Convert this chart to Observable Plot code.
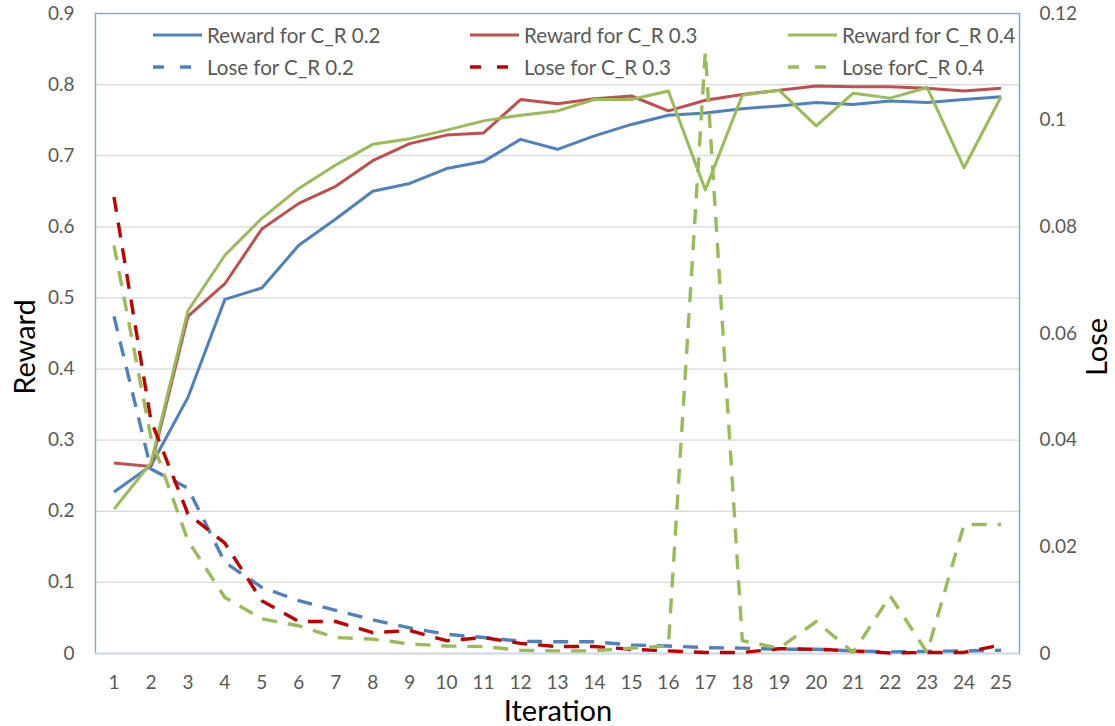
<!DOCTYPE html>
<html>
<head>
<meta charset="utf-8">
<script src="https://cdn.jsdelivr.net/npm/d3@7"></script>
<script src="https://cdn.jsdelivr.net/npm/@observablehq/plot@0.6"></script>
<style>
  body { margin: 0; background: #fff; }
  #wrap { position: relative; width: 1115px; height: 726px; font-family: Lato, "Open Sans", sans-serif; overflow: hidden; }
  .legend-item { position: absolute; display: flex; align-items: center; font-size: 20.5px; color: #595959; white-space: nowrap; transform: translateY(-50%); }
  .legend-item svg { margin-right: 5px; }
  .title { position: absolute; color: #000; white-space: nowrap; transform: translate(-50%, -50%); }
</style>
</head>
<body>
<div id="wrap"></div>
<script>
// ---- data ----
const iterations = [1,2,3,4,5,6,7,8,9,10,11,12,13,14,15,16,17,18,19,20,21,22,23,24,25];

const reward02 = [0.227,0.264,0.360,0.498,0.514,0.574,0.611,0.650,0.661,0.682,0.692,0.723,0.709,0.728,0.744,0.757,0.760,0.766,0.770,0.775,0.772,0.777,0.775,0.779,0.783];
const reward03 = [0.268,0.263,0.474,0.520,0.597,0.633,0.657,0.693,0.717,0.729,0.732,0.779,0.773,0.780,0.784,0.763,0.778,0.786,0.792,0.798,0.797,0.797,0.795,0.791,0.795];
const reward04 = [0.203,0.268,0.482,0.560,0.612,0.654,0.687,0.716,0.724,0.736,0.749,0.757,0.763,0.779,0.779,0.791,0.652,0.785,0.792,0.742,0.788,0.781,0.796,0.683,0.783];

const lose02 = [0.0632,0.0346,0.0310,0.0171,0.0124,0.0099,0.0081,0.0063,0.0048,0.0036,0.0030,0.0023,0.0022,0.0022,0.0016,0.0014,0.0011,0.0010,0.0008,0.0008,0.0005,0.0003,0.0004,0.0005,0.0006];
const lose03 = [0.0856,0.0437,0.0262,0.0207,0.0099,0.0060,0.0060,0.0039,0.0043,0.0024,0.0030,0.0019,0.0013,0.0013,0.0008,0.0005,0.0002,0.0002,0.0009,0.0008,0.0005,0.0001,0.0002,0.0002,0.0016];
const lose04 = [0.0765,0.0405,0.0212,0.0105,0.0065,0.0052,0.0030,0.0027,0.0018,0.0014,0.0013,0.0006,0.0005,0.0005,0.0010,0.0014,0.1128,0.0024,0.0010,0.0060,0.0002,0.0108,0.0002,0.0242,0.0242];

const rewardTicks = [0,0.1,0.2,0.3,0.4,0.5,0.6,0.7,0.8,0.9];
const loseTicks = [0,0.02,0.04,0.06,0.08,0.1,0.12];

const seriesNames = ["Reward for C_R 0.2","Reward for C_R 0.3","Reward for C_R 0.4","Lose for C_R 0.2","Lose for C_R 0.3","Lose forC_R 0.4"];
const seriesValues = [reward02, reward03, reward04, lose02, lose03, lose04];
const seriesAxis = ["reward","reward","reward","lose","lose","lose"];
const seriesColors = ["#4F81BD","#C0504D","#9BBB59","#4F81BD","#C00000","#9BBB59"];

// ---- build ----
const ratio = 0.9 / 0.12; // secondary axis mapped onto primary
const rows = [];
seriesNames.forEach((name, s) => {
  seriesValues[s].forEach((v, i) => {
    rows.push({series: name, iteration: iterations[i], value: v, y: seriesAxis[s] === "lose" ? v * ratio : v});
  });
});

const W = 1115, H = 726;
const fmtReward = d => d === 0 ? "0" : d.toFixed(1);
const fmtLose = d => String(+(d / ratio).toFixed(4));

const lineMarks = seriesNames.map((name, s) => Plot.line(rows.filter(r => r.series === name), {
  x: "iteration",
  y: "y",
  stroke: seriesColors[s],
  strokeWidth: seriesAxis[s] === "lose" ? 3.4 : 3,
  strokeDasharray: seriesAxis[s] === "lose" ? "15,11" : null,
  strokeLinejoin: "round",
  strokeLinecap: "butt"
}));

const chart = Plot.plot({
  width: W,
  height: H,
  marginLeft: 95,
  marginRight: 96,
  marginTop: 13,
  marginBottom: 73,
  style: {fontFamily: "Lato, 'Open Sans', sans-serif", fontSize: "19px", color: "#595959", background: "#fff", overflow: "visible"},
  x: {type: "point", domain: iterations, padding: 0.5, round: false},
  y: {domain: [0, 0.9]},
  marks: [
    Plot.ruleY(rewardTicks.filter(d => d > 0 && d < 0.9), {stroke: "#d9d9d9", strokeWidth: 1.3}),
    Plot.frame({stroke: "#7EA6D8", strokeWidth: 1.4}),
    Plot.ruleY([0], {stroke: "#d9d9d9", strokeWidth: 1.6}),
    Plot.axisY({ticks: rewardTicks, tickSize: 0, tickPadding: 21, tickFormat: fmtReward, label: null, fill: "#595959"}),
    Plot.axisY({anchor: "right", ticks: loseTicks.map(d => d * ratio), tickSize: 0, tickPadding: 20, tickFormat: fmtLose, label: null, fill: "#595959"}),
    Plot.axisX({tickSize: 0, tickPadding: 22, label: null, fill: "#595959"}),
    ...lineMarks
  ]
});

const wrap = document.getElementById("wrap");
wrap.appendChild(chart);

// ---- legend (inside plot area, 3 columns x 2 rows) ----
const legendCols = [153, 470, 788];
const legendRows = [35, 67];
seriesNames.forEach((name, s) => {
  const col = s % 3, row = Math.floor(s / 3);
  const item = document.createElement("div");
  item.className = "legend-item";
  item.style.left = legendCols[col] + "px";
  item.style.top = legendRows[row] + "px";
  const dashed = seriesAxis[s] === "lose";
  item.innerHTML = `<svg width="49" height="8"><line x1="0" y1="4" x2="49" y2="4" stroke="${seriesColors[s]}" stroke-width="${dashed ? 3.4 : 3}" ${dashed ? 'stroke-dasharray="11,16"' : ''}/></svg><span>${name}</span>`;
  wrap.appendChild(item);
});

// ---- axis titles ----
function addTitle(text, x, y, size, rotate) {
  const t = document.createElement("div");
  t.className = "title";
  t.textContent = text;
  t.style.left = x + "px";
  t.style.top = y + "px";
  t.style.fontSize = size + "px";
  if (rotate) t.style.transform = "translate(-50%, -50%) rotate(-90deg)";
  wrap.appendChild(t);
}
addTitle("Reward", 23, 347, 29, true);
addTitle("Lose", 1095, 347, 29, true);
addTitle("Iteration", 558, 709, 29, false);
</script>
</body>
</html>
